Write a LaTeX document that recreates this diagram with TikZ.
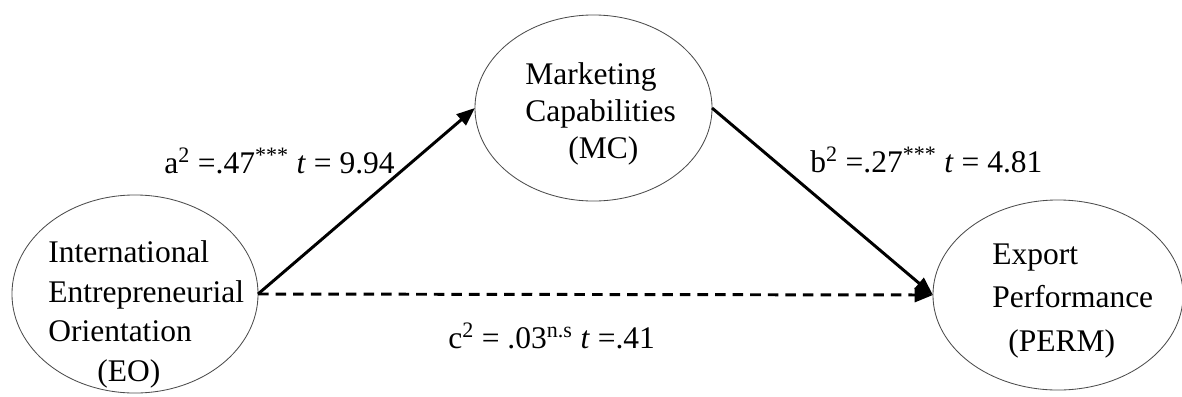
\documentclass[tikz,border=0pt]{standalone}
\usepackage{fontspec}
\setmainfont{Liberation Serif}
\usetikzlibrary{shapes.geometric,arrows.meta}
\tikzset{
  construct/.style={ellipse,draw=black!70,line width=0.6pt,inner sep=0pt,outer sep=0pt},
  cname/.style={anchor=north west,inner sep=0pt,align=left,font=\fontsize{22.4}{#1}\selectfont},
  coef/.style={anchor=base west,inner sep=0pt,font=\fontsize{22.4}{27}\selectfont},
  effect/.style={-{Triangle[length=13pt,width=10pt]},line width=2.1pt},
}

\begin{document}
\begin{tikzpicture}[x=0.025cm,y=-0.025cm]
\useasboundingbox (0,0) rectangle (1182,396);
% latent constructs
\node[construct,minimum width=6.15cm,minimum height=4.95cm] (EO) at (135,294) {};
\node[construct,minimum width=5.925cm,minimum height=4.65cm] (MC) at (593.5,108) {};
\node[construct,minimum width=6.25cm,minimum height=4.75cm] (PERM) at (1058,295) {};
% construct names
\node[cname=28.1pt] (EOname) at (48,240.5) {International\\Entrepreneurial\\Orientation\\\hspace*{1.225cm}(EO)};
\node[cname=26.3pt] (MCname) at (525,62) {Marketing\\Capabilities\\\hspace*{1.075cm}(MC)};
\node[cname=30.9pt] (PERMname) at (992,243.5) {Export\\Performance\\\hspace*{0.4cm}(PERM)};
% paths
\draw[effect] (EO.east) -- (MC.west);
\draw[effect] (MC.east) -- (PERM.west);
\draw[effect,dash pattern=on 7.5pt off 5pt] (EO.east) -- (PERM.west);
% coefficients
\node[coef] (acoef) at (164,173) {a\textsuperscript{2} =.47\textsuperscript{***} \textit{t} = 9.94};
\node[coef] (bcoef) at (810,172) {b\textsuperscript{2} =.27\textsuperscript{***} \textit{t} = 4.81};
\node[coef] (ccoef) at (448,348) {c\textsuperscript{2} = .03\textsuperscript{n.s} \textit{t} =.41};
\end{tikzpicture}
\end{document}
